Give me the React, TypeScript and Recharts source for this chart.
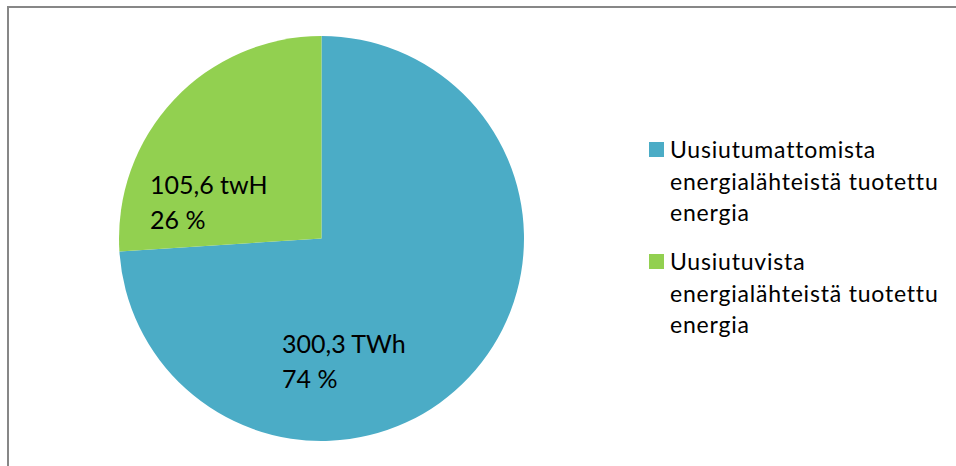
import React from "react";
import { PieChart, Pie, Cell, Legend } from "recharts";

const names = [
  "Uusiutumattomista energialähteistä tuotettu energia",
  "Uusiutuvista energialähteistä tuotettu energia",
];
const values = [300.3, 105.6];
const labelLines = [
  ["300,3 TWh", "74 %"],
  ["105,6 twH", "26 %"],
];
const colors = ["#4BACC6", "#92D050"];

const data = names.map((n, i) => ({ name: n, value: values[i] }));

const FONT = "Lato, 'Open Sans', sans-serif";

const labelOffsets = [
  { dx: -39.5, dy: 114.5 },
  { dx: -171.5, dy: -44.5 },
];

const renderLabel = (props: any) => {
  const { cx, cy, index } = props;
  const o = labelOffsets[index];
  const x = cx + o.dx;
  const y = cy + o.dy;
  return (
    <text x={x} y={y} fill="#000" fontSize={25} fontFamily={FONT} textAnchor="start">
      <tspan x={x} y={y}>{labelLines[index][0]}</tspan>
      <tspan x={x} y={y + 35}>{labelLines[index][1]}</tspan>
    </text>
  );
};

const renderLegend = (props: any) => {
  const { payload } = props;
  return (
    <div style={{ fontFamily: FONT, fontSize: 23, color: "#000", letterSpacing: 0.8 }}>
      {(payload || []).map((p: any, i: number) => (
        <div key={i} style={{ display: "flex", alignItems: "flex-start", marginBottom: i === 0 ? 17.5 : 0 }}>
          <div style={{ width: 15, height: 15, background: p.color, marginTop: 8, marginRight: 6, flex: "none" }} />
          <div style={{ width: 285, lineHeight: "31.5px" }}>{p.value}</div>
        </div>
      ))}
    </div>
  );
};

export default function App() {
  return (
    <div style={{ position: "absolute", left: 0, top: 0, width: 956, height: 466, background: "#fff" }}>
      <div style={{ position: "absolute", left: 7, top: 6, width: 949, height: 2, background: "#878787" }} />
      <div style={{ position: "absolute", left: 7, top: 6, width: 2, height: 460, background: "#878787" }} />
      <div style={{ position: "absolute", left: 0, top: 0 }}>
        <PieChart width={956} height={466} margin={{ top: 0, right: 0, bottom: 0, left: 0 }}>
          <Pie
            data={data}
            dataKey="value"
            nameKey="name"
            cx={321.5}
            cy={238.5}
            outerRadius={202.5}
            startAngle={90}
            endAngle={-270}
            stroke="none"
            label={renderLabel}
            labelLine={false}
            isAnimationActive={false}
          >
            {data.map((d, i) => (
              <Cell key={i} fill={colors[i]} />
            ))}
          </Pie>
          <Legend
            content={renderLegend}
            wrapperStyle={{ position: "absolute", left: 649, top: 134, width: 307 }}
          />
        </PieChart>
      </div>
    </div>
  );
}
